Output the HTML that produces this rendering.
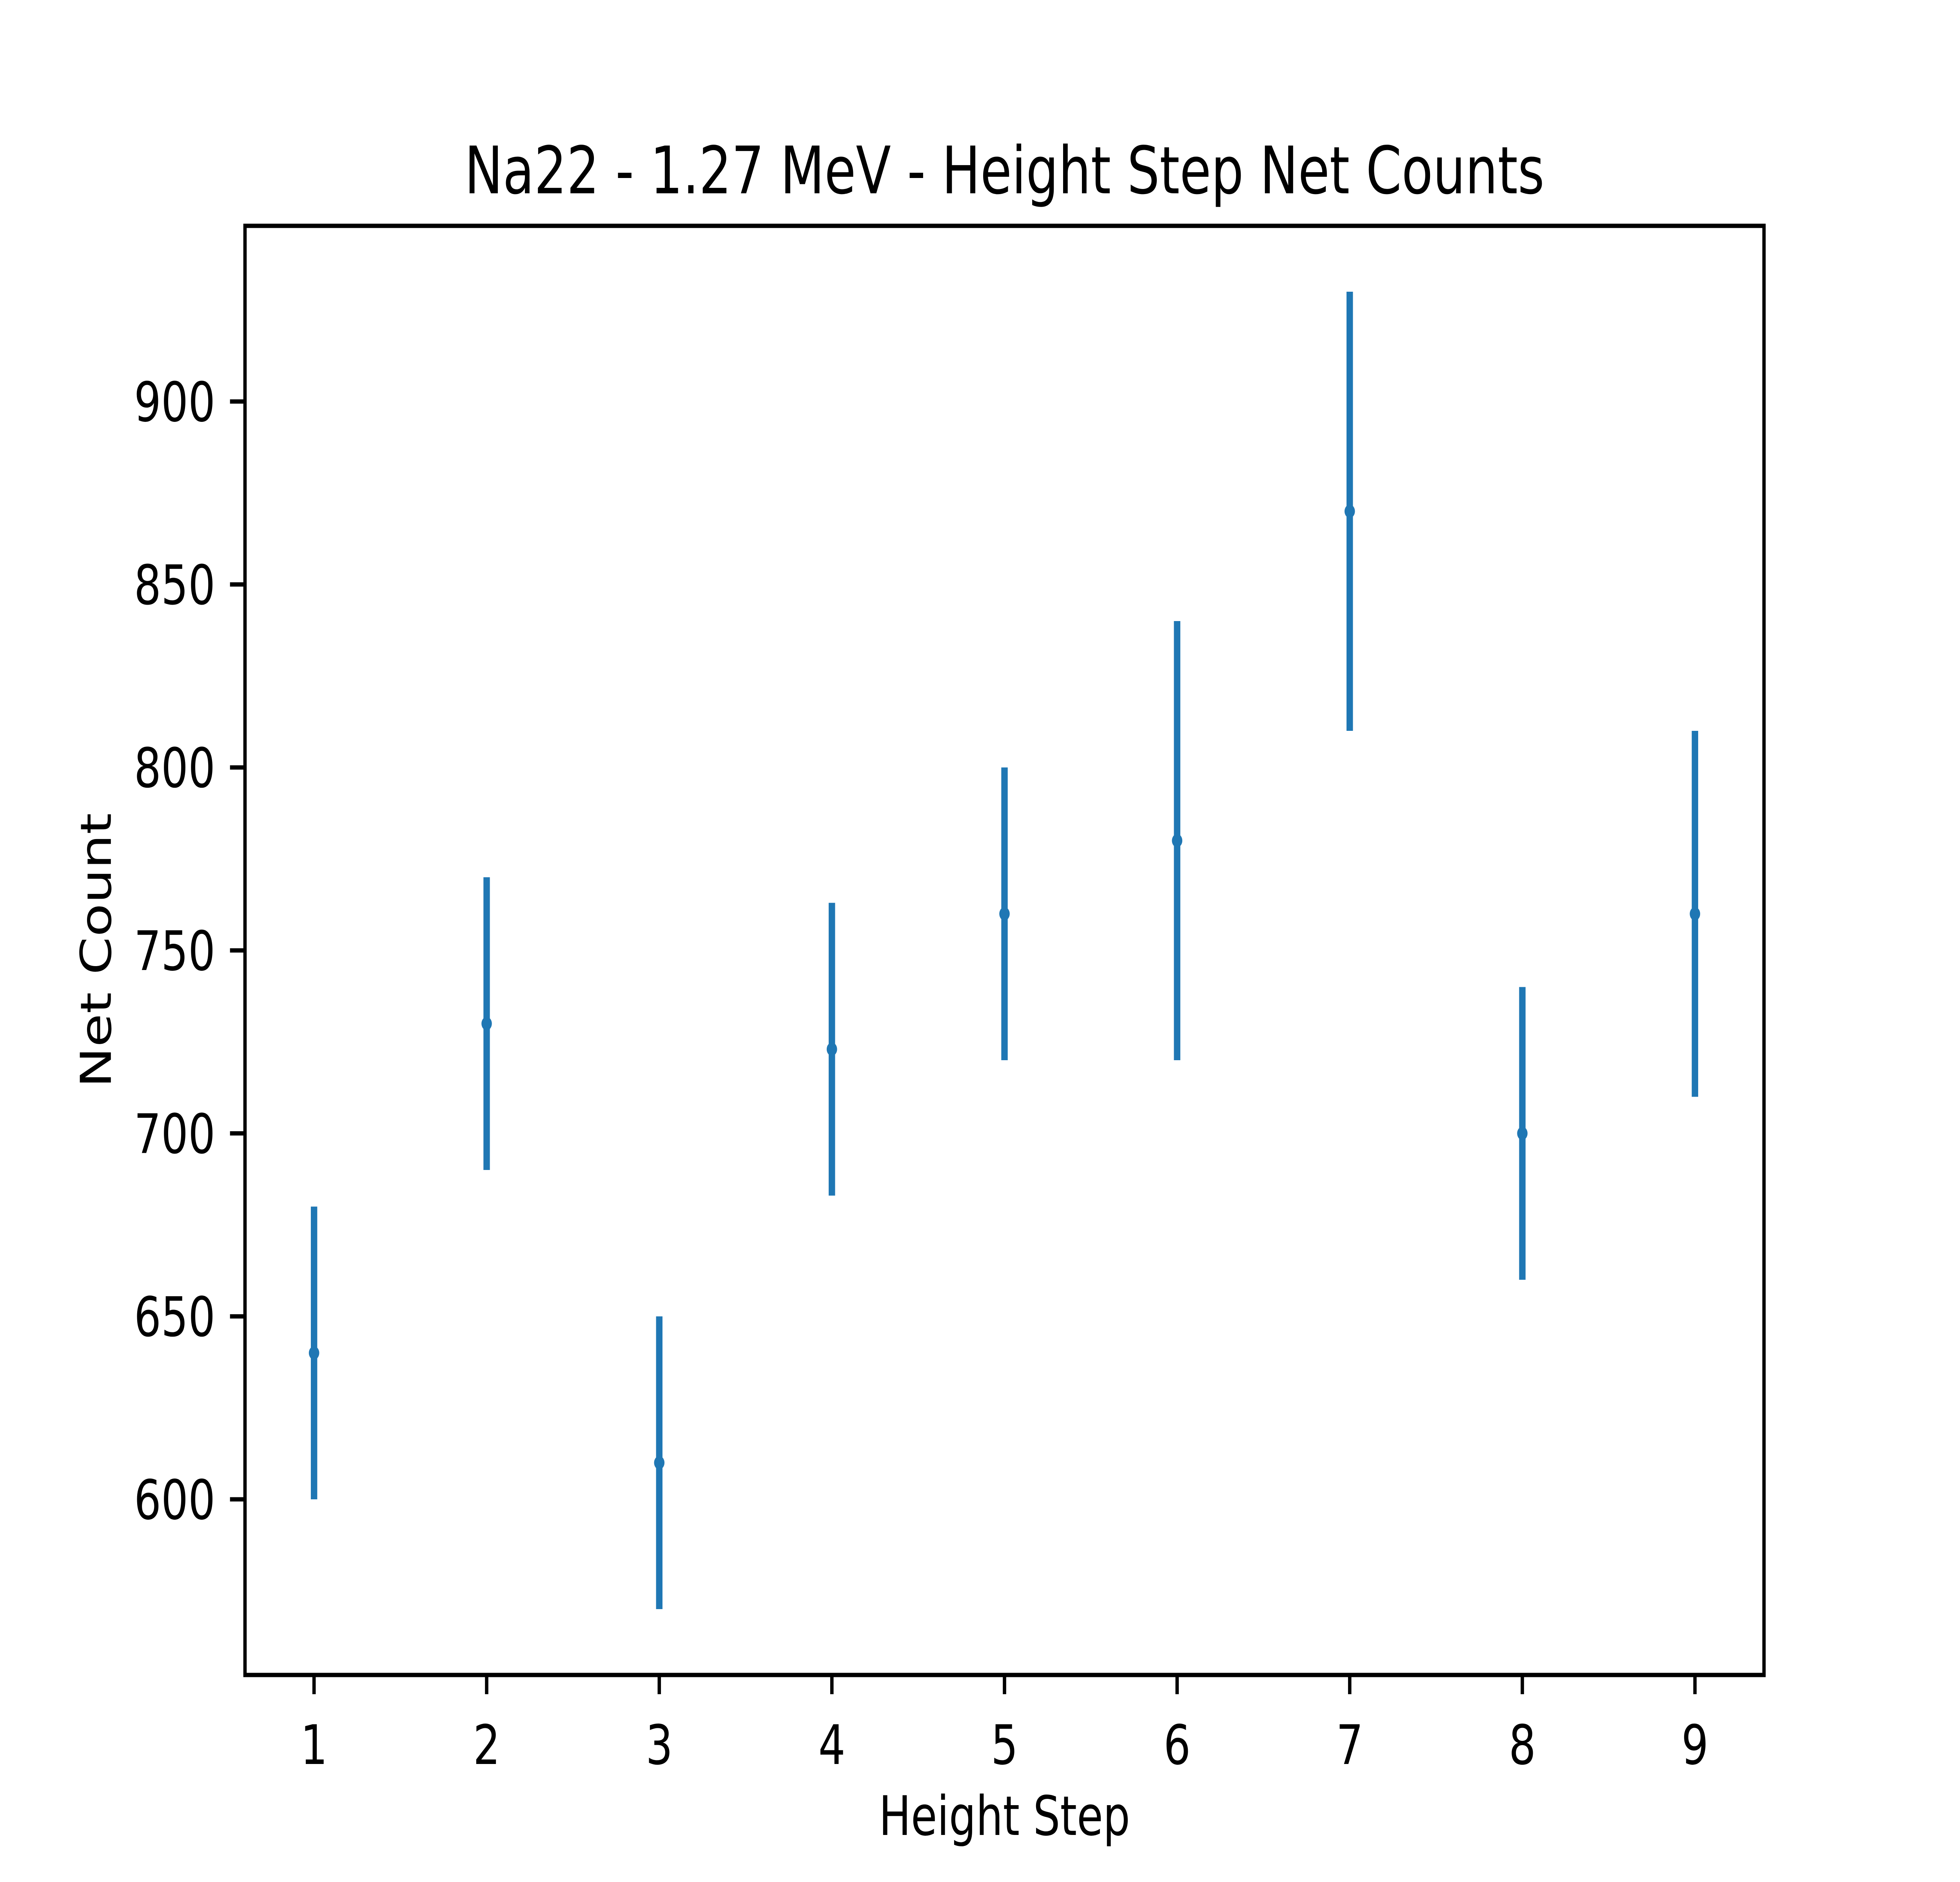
<!DOCTYPE html>
<html><head><meta charset="utf-8"><style>
html,body{margin:0;padding:0;background:#fff;overflow:hidden;width:100%;height:100%}
svg{display:block;position:fixed;left:0;top:0;width:100vw;height:100vh}
text{font-family:"DejaVu Sans","Liberation Sans",sans-serif;fill:#000}
</style></head><body>
<svg id="chart" viewBox="0 0 6400 4800" preserveAspectRatio="none" xmlns="http://www.w3.org/2000/svg">
<rect width="6400" height="4800" fill="#fff"/>
<text x="3280" y="493" font-size="167" text-anchor="middle">Na22 - 1.27 MeV - Height Step Net Counts</text>
<g id="marks"></g>
<g id="axes"></g>
<text x="3280" y="4680" font-size="139" text-anchor="middle">Height Step</text>
<text transform="translate(362,2424) rotate(-90)" font-size="139" text-anchor="middle">Net Count</text>
</svg>
<script>
const steps = [1,2,3,4,5,6,7,8,9];
const counts = [640,730,610,723,760,780,870,700,760];
const errors = [40,40,40,40,40,60,60,40,50];
const xTicks = [1,2,3,4,5,6,7,8,9];
const yTicks = [600,650,700,750,800,850,900];

const L=800,R=5760,T=576,B=4272;
const xMin=0.6,xMax=9.4,yMin=552,yMax=948;
const sx=v=>L+(v-xMin)/(xMax-xMin)*(R-L);
const sy=v=>B-(v-yMin)/(yMax-yMin)*(B-T);
const NS="http://www.w3.org/2000/svg";
function mk(tag,attrs,parent){const e=document.createElementNS(NS,tag);for(const k in attrs)e.setAttribute(k,attrs[k]);parent.appendChild(e);return e;}
const marks=document.getElementById('marks');
const axes=document.getElementById('axes');
steps.forEach((s,i)=>{
  const bar=mk('line',{x1:sx(s),x2:sx(s),y1:sy(counts[i]-errors[i]),y2:sy(counts[i]+errors[i]),stroke:'#1f77b4','stroke-width':21},marks);
  
  
  const pt=mk('circle',{cx:sx(s),cy:sy(counts[i]),r:17,fill:'#1f77b4'},marks);
  
  
});
xTicks.forEach(t=>{
  const tk=mk('line',{x1:sx(t),x2:sx(t),y1:B,y2:B+49,stroke:'#000','stroke-width':11},axes);
  
  
  const lb=mk('text',{x:sx(t),y:B+97+130,'font-size':139,'text-anchor':'middle'},axes);
  lb.textContent=t;
  
  
});
yTicks.forEach(t=>{
  const tk=mk('line',{x1:L-49,x2:L,y1:sy(t),y2:sy(t),stroke:'#000','stroke-width':11},axes);
  
  
  const lb=mk('text',{x:L-97,y:sy(t)+50,'font-size':139,'text-anchor':'end'},axes);
  lb.textContent=t;
  
  
});
const frame=mk('rect',{x:L,y:T,width:R-L,height:B-T,fill:'none',stroke:'#000','stroke-width':11},axes);


</script>
</body></html>
